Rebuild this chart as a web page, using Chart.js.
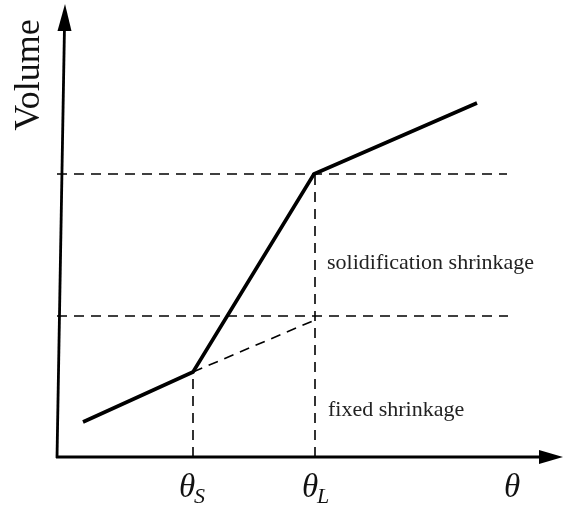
<!DOCTYPE html>
<html>
<head>
<meta charset="utf-8">
<script src="https://cdn.jsdelivr.net/npm/chart.js@4.4.1/dist/chart.umd.min.js"></script>
<style>
  html, body { margin: 0; padding: 0; background: #fff; }
  #wrap { width: 564px; height: 511px; position: relative; }
</style>
</head>
<body>
<div id="wrap"><canvas id="chart"></canvas></div>
<script>
// values (theta on x, volume on y, arbitrary units)
var curveTheta = [26, 136, 257, 420];
var curveVolume = [35, 85, 283, 354];

var thetaS = 136;
var thetaL = 257;
var volumeL = 283;      // volume at liquidus
var volumeFixed = 141;  // extended solid line at theta L
var volumeExtEnd = 137;
var guideEnd = 450;

// axis ends (x axis arrow, y axis arrow tip)
var xAxisEnd = 506;
var yAxisBottom = [0, 0];
var yAxisTop = [8, 453];

var tickNames = ["θ", "θ", "θ"];
var tickSubs = ["S", "L", ""];
var tickValues = [thetaS, thetaL + 2, 455];

var noteTexts = ["solidification shrinkage", "fixed shrinkage"];
var noteTheta = [270, 271];
var noteVolume = [194, 47];

function pts(xs, ys) {
  return xs.map(function (x, i) { return { x: x, y: ys[i] }; });
}

var dashStyle = {
  borderColor: "#000",
  borderWidth: 1.6,
  borderDash: [10, 7],
  pointRadius: 0,
  showLine: true,
  fill: false
};

function dashed(xs, ys) {
  return Object.assign({ data: pts(xs, ys) }, dashStyle);
}

var axesPlugin = {
  id: "axesPlugin",
  afterDatasetsDraw: function (chart) {
    var ctx = chart.ctx;
    var xs = chart.scales.x, ys = chart.scales.y;
    var X = function (v) { return xs.getPixelForValue(v); };
    var Y = function (v) { return ys.getPixelForValue(v); };
    ctx.save();
    ctx.strokeStyle = "#000";
    ctx.fillStyle = "#000";
    ctx.lineWidth = 2.8;
    ctx.lineCap = "butt";

    // x axis
    var x0 = X(0), y0 = Y(0);
    var xt = X(xAxisEnd);
    ctx.beginPath();
    ctx.moveTo(x0 - 1, y0);
    ctx.lineTo(xt - 20, y0);
    ctx.stroke();
    ctx.beginPath();
    ctx.moveTo(xt, y0);
    ctx.lineTo(xt - 24, y0 - 7);
    ctx.lineTo(xt - 24, y0 + 7);
    ctx.closePath();
    ctx.fill();

    // y axis (slightly slanted in the original)
    var bx = X(yAxisBottom[0]), by = Y(yAxisBottom[1]);
    var tx = X(yAxisTop[0]), ty = Y(yAxisTop[1]);
    ctx.beginPath();
    ctx.moveTo(bx, by + 1);
    ctx.lineTo(tx - 0.5, ty + 22);
    ctx.stroke();
    ctx.beginPath();
    ctx.moveTo(tx, ty);
    ctx.lineTo(tx - 7.5, ty + 27);
    ctx.lineTo(tx + 6.5, ty + 27);
    ctx.closePath();
    ctx.fill();

    // tick labels
    ctx.fillStyle = "#111";
    ctx.textBaseline = "alphabetic";
    tickValues.forEach(function (v, i) {
      ctx.font = "italic 33px 'Liberation Serif'";
      var w = ctx.measureText(tickNames[i]).width;
      var left = X(v) - w / 2;
      if (tickSubs[i]) left = X(v) - w / 2 - 6;
      ctx.textAlign = "left";
      ctx.fillText(tickNames[i], left, y0 + 40);
      if (tickSubs[i]) {
        ctx.font = "italic 22px 'Liberation Serif'";
        ctx.fillText(tickSubs[i], left + w - 1, y0 + 46);
      }
    });

    // notes
    ctx.fillStyle = "#222";
    ctx.font = "22px 'Liberation Serif'";
    ctx.textAlign = "left";
    ctx.textBaseline = "middle";
    noteTexts.forEach(function (t, i) {
      ctx.fillText(t, X(noteTheta[i]), Y(noteVolume[i]));
    });

    // y title
    ctx.save();
    ctx.translate(30, 75);
    ctx.rotate(-Math.PI / 2);
    ctx.font = "36px 'Liberation Serif'";
    ctx.textAlign = "center";
    ctx.textBaseline = "middle";
    ctx.fillStyle = "#111";
    ctx.fillText("Volume", 0, 0);
    ctx.restore();

    ctx.restore();
  }
};

var ctx = document.getElementById("chart").getContext("2d");
var chart = new Chart(ctx, {
  type: "scatter",
  data: {
    datasets: [
      dashed([0, guideEnd], [volumeL, volumeL]),
      dashed([0, guideEnd + 1], [volumeFixed, volumeFixed]),
      dashed([thetaS, thetaS], [0, curveVolume[1]]),
      dashed([thetaL + 1, thetaL + 1], [0, volumeL]),
      dashed([thetaS, thetaL + 1], [curveVolume[1], volumeExtEnd]),
      {
        data: pts(curveTheta, curveVolume),
        borderColor: "#000",
        borderWidth: 3.6,
        pointRadius: 0,
        showLine: true,
        fill: false,
        borderJoinStyle: "miter"
      }
    ]
  },
  options: {
    responsive: true,
    maintainAspectRatio: false,
    animation: false,
    layout: { padding: 0 },
    plugins: {
      legend: { display: false },
      tooltip: { enabled: false }
    },
    scales: {
      x: { type: "linear", min: -57, max: 507, display: false },
      y: { type: "linear", min: -54, max: 457, display: false }
    }
  },
  plugins: [axesPlugin]
});
</script>
</body>
</html>
